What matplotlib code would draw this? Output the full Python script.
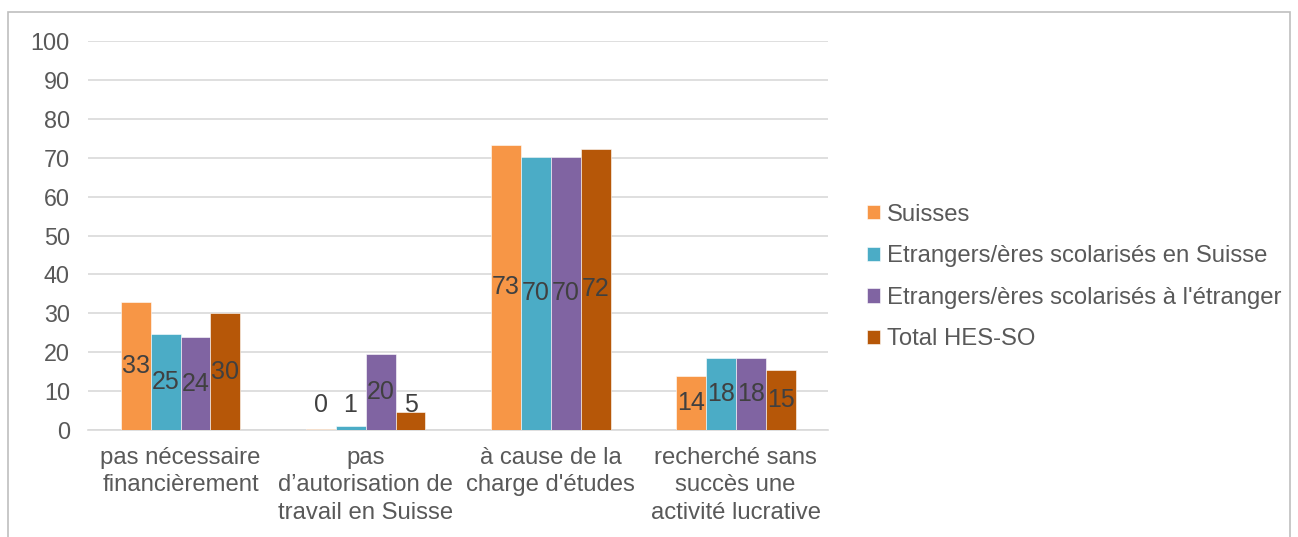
import matplotlib.pyplot as plt
import numpy as np
from matplotlib.patches import Rectangle

plt.rcParams['font.family'] = ['Liberation Sans', 'DejaVu Sans']

# données #
categories = ['pas nécessaire\nfinancièrement',
              'pas\nd\u2019autorisation de\ntravail en Suisse',
              'à cause de la\ncharge d\'études',
              'recherché sans\nsuccès une\nactivité lucrative']
series = ['Suisses', 'Etrangers/ères scolarisés en Suisse',
          'Etrangers/ères scolarisés à l\'étranger', 'Total HES-SO']
suisses = [32.9, 0.3, 73.3, 13.8]
etr_suisse = [24.8, 1.0, 70.3, 18.5]
etr_etranger = [23.8, 19.6, 70.3, 18.5]
total = [30.0, 4.6, 72.3, 15.3]
values = [suisses, etr_suisse, etr_etranger, total]
colors = ['#F79646', '#4BACC6', '#8064A2', '#B65708']

fig = plt.figure(figsize=(12.98, 5.37), dpi=100)
ax = fig.add_axes([0.0678, 0.1993, 0.5702, 0.7243])

x = np.arange(len(categories))
w = 0.162
for i, (vals, c, name) in enumerate(zip(values, colors, series)):
    pos = x + (i - 1.5) * w
    ax.bar(pos, vals, w, color=c, label=name, edgecolor='white', linewidth=0.4, zorder=3)
    for p, v in zip(pos, vals):
        ax.text(p, max(v / 2, 6.4), f'{v:.0f}', ha='center', va='center',
                fontsize=18, color='#404040', zorder=4)

ax.set_ylim(0, 100)
ax.set_xlim(-0.5, 3.5)
ax.set_yticks(range(0, 101, 10))
ax.grid(True, axis='y', color='#D9D9D9', linewidth=1.2, zorder=0)
for s in ['top', 'right', 'left']:
    ax.spines[s].set_visible(False)
ax.spines['bottom'].set_color('#D9D9D9')
ax.spines['bottom'].set_linewidth(1.2)
ax.tick_params(axis='y', length=0, labelsize=16.8, labelcolor='#595959', pad=13)
ax.tick_params(axis='x', length=0, labelsize=17.2, labelcolor='#595959', pad=12)
ax.set_xticks(x)
ax.set_xticklabels(categories, linespacing=1.32)

leg = fig.legend(loc='center left', bbox_to_anchor=(845 / 1298, 1 - 277 / 537), frameon=False,
                 fontsize=17.2, labelcolor='#595959', handlelength=0.55,
                 handleheight=0.55, handletextpad=0.3, labelspacing=0.82)

# cadre du graphique
fig.patches.append(Rectangle((8 / 1298, -0.1), (1290 - 8) / 1298, 1 - 12 / 537 + 0.1,
                             transform=fig.transFigure, fill=False,
                             edgecolor='#BFBFBF', linewidth=1.2))

fig.savefig('out.png', dpi=100)
